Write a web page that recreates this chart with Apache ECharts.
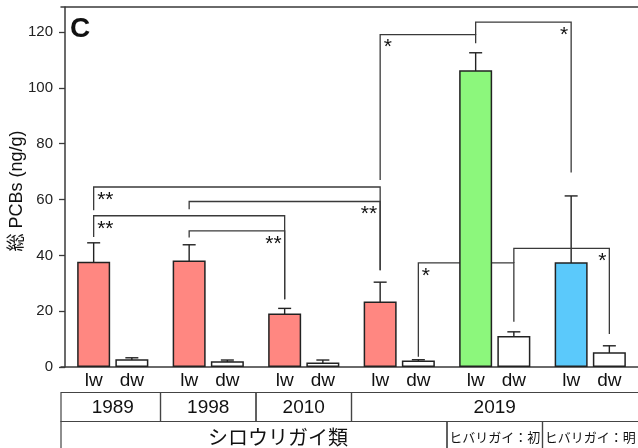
<!DOCTYPE html>
<html>
<head>
<meta charset="utf-8">
<script src="https://cdn.jsdelivr.net/npm/echarts@6/dist/echarts.min.js"></script>
<style>
  html, body { margin: 0; padding: 0; background: #fff; }
  #chart { width: 638px; height: 448px; }
</style>
</head>
<body>
<div id="chart"></div>
<script>
// bar pairs per group: lw then dw
var groups = ['1989', '1998', '2010', '2019 シロウリガイ類', '2019 ヒバリガイ：初', '2019 ヒバリガイ：明'];
var lwMean = [37.7, 38.2, 19.2, 23.5, 106.3, 37.5];
var lwLow = [31.6, 32.9, 18.0, 17.8, 100.0, 14.1];
var lwHigh = [44.5, 43.8, 21.0, 30.4, 112.6, 61.3];
var dwMean = [2.8, 2.1, 1.6, 2.3, 11.1, 5.3];
var dwLow = [2.2, 1.7, 1.1, 1.9, 8.8, 3.3];
var dwHigh = [3.3, 2.5, 2.5, 2.6, 12.6, 7.6];
var lwColors = ['#ff8781', '#ff8781', '#ff8781', '#ff8781', '#8cf77c', '#5bc9fb'];

// y axis ticks
var yTicks = [0, 20, 40, 60, 80, 100, 120];

// significance brackets, bar slots 0..11 (lw, dw, lw, dw ...)
var bracketFrom = [0, 2, 0, 2, 6, 8, 7, 9];
var bracketTo = [6, 6, 4, 4, 8, 10, 9, 11];
var bracketTop = [64.5, 59.3, 54.2, 48.8, 119.1, 123.6, 37.3, 42.5];
var bracketFromEnd = [56.2, 56.5, 46.6, 46.4, 67.0, 119.1, 3.7, 37.3];
var bracketToEnd = [34.7, 34.7, 24.3, 24.3, 116.0, 69.7, 16.2, 11.8];
var bracketMark = ['**', '**', '**', '**', '*', '*', '*', '*'];
var bracketMarkSide = ['left', 'right', 'left', 'right', 'left', 'right', 'left', 'right'];

// table under the axis
var yearLabels = ['1989', '1998', '2010', '2019'];
var yearSpans = [[0, 1], [1, 2], [2, 3], [3, 6]];
var speciesLabels = ['シロウリガイ類', 'ヒバリガイ：初', 'ヒバリガイ：明'];
var speciesSpans = [[0, 4], [4, 5], [5, 6]];

var LATIN = '"Liberation Sans", Arial, "Noto Sans CJK JP", sans-serif';
var CJK = '"Noto Sans CJK JP", sans-serif';
var LINE = '#3a3a3a';

function slotX(s) {
  return Math.floor(s / 2) + (s % 2 ? 0.7 : 0.3);
}

var barData = [];
var errData = [];
for (var g = 0; g < groups.length; g++) {
  barData.push({ value: [slotX(2 * g), lwMean[g]], itemStyle: { color: lwColors[g] }, kind: 'lw' });
  barData.push({ value: [slotX(2 * g + 1), dwMean[g]], itemStyle: { color: '#ffffff' }, kind: 'dw' });
  errData.push([slotX(2 * g), lwLow[g], lwHigh[g]]);
  errData.push([slotX(2 * g + 1), dwLow[g], dwHigh[g]]);
}

var bracketData = bracketFrom.map(function (f, i) {
  return [slotX(f), slotX(bracketTo[i]), bracketTop[i], bracketFromEnd[i], bracketToEnd[i]];
});

var cells = [];
yearLabels.forEach(function (t, i) {
  cells.push({ value: [yearSpans[i][0], yearSpans[i][1], 0], text: t });
});
speciesLabels.forEach(function (t, i) {
  cells.push({ value: [speciesSpans[i][0], speciesSpans[i][1], 1], text: t });
});
// the first species label sits a bit right of its cell centre
var cellTextShift = { 'シロウリガイ類': 22 };

var chart = echarts.init(document.getElementById('chart'));

chart.setOption({
  animation: false,
  backgroundColor: '#fff',
  grid: { left: 61, right: 0, top: 7, bottom: 81, containLabel: false, outerBoundsMode: 'none' },
  graphic: [{
    type: 'text',
    left: 70,
    top: 15,
    style: { text: 'C', font: 'bold 28px ' + LATIN, fill: '#111' }
  }],
  xAxis: [{
    type: 'value',
    min: -0.042,
    max: 6,
    axisLine: { show: true, onZero: false, lineStyle: { color: LINE, width: 1.5 } },
    axisTick: { show: false },
    axisLabel: { show: false },
    splitLine: { show: false }
  }, {
    type: 'value',
    position: 'top',
    min: -0.042,
    max: 6,
    axisLine: { show: true, onZero: false, lineStyle: { color: LINE, width: 1.5 } },
    axisTick: { show: false },
    axisLabel: { show: false },
    splitLine: { show: false }
  }],
  yAxis: {
    type: 'value',
    min: 0,
    max: 129,
    name: '総 PCBs (ng/g)',
    nameLocation: 'middle',
    nameGap: 35,
    nameRotate: 90,
    nameMoveOverlap: false,
    nameTextStyle: { fontSize: 18, fontFamily: LATIN, color: '#111', padding: [0, 8, 0, 0] },
    axisLine: { show: true, lineStyle: { color: LINE, width: 1.5 } },
    axisTick: { show: true, length: 6, customValues: yTicks, lineStyle: { color: LINE, width: 1.3 } },
    axisLabel: { fontSize: 15, fontFamily: LATIN, color: '#222', margin: 8, customValues: yTicks },
    splitLine: { show: false }
  },
  series: [{
    type: 'bar',
    barWidth: 33,
    data: barData,
    itemStyle: { borderColor: '#222', borderWidth: 1.5 },
    label: {
      show: true,
      position: 'bottom',
      distance: 4,
      fontSize: 19,
      fontFamily: LATIN,
      color: '#111',
      formatter: function (p) { return p.data.kind; }
    }
  }, {
    type: 'custom',
    name: 'error',
    data: errData,
    encode: { x: 0, y: [1, 2] },
    renderItem: function (params, api) {
      var hi = api.coord([api.value(0), api.value(2)]);
      var lo = api.coord([api.value(0), api.value(1)]);
      var w = 6.5;
      var st = { stroke: '#222', lineWidth: 1.4 };
      return {
        type: 'group',
        children: [
          { type: 'line', shape: { x1: hi[0], y1: hi[1], x2: lo[0], y2: lo[1] }, style: st },
          { type: 'line', shape: { x1: hi[0] - w, y1: hi[1], x2: hi[0] + w, y2: hi[1] }, style: st },
          { type: 'line', shape: { x1: lo[0] - w, y1: lo[1], x2: lo[0] + w, y2: lo[1] }, style: st }
        ]
      };
    }
  }, {
    type: 'custom',
    name: 'brackets',
    data: bracketData,
    encode: { x: [0, 1], y: [2, 3, 4] },
    clip: false,
    renderItem: function (params, api) {
      var i = params.dataIndex;
      var a = api.coord([api.value(0), api.value(3)]);
      var at = api.coord([api.value(0), api.value(2)]);
      var bt = api.coord([api.value(1), api.value(2)]);
      var b = api.coord([api.value(1), api.value(4)]);
      var left = bracketMarkSide[i] === 'left';
      return {
        type: 'group',
        children: [{
          type: 'polyline',
          shape: { points: [a, at, bt, b] },
          style: { stroke: LINE, lineWidth: 1.3, fill: null }
        }, {
          type: 'text',
          x: left ? at[0] + 3.5 : bt[0] - 3,
          y: at[1] + 13,
          style: {
            text: bracketMark[i],
            font: '21px ' + LATIN,
            fill: '#111',
            align: left ? 'left' : 'right',
            verticalAlign: 'middle'
          }
        }]
      };
    }
  }, {
    type: 'custom',
    name: 'table',
    data: cells,
    encode: { x: [0, 1] },
    clip: false,
    silent: true,
    renderItem: function (params, api) {
      var cs = params.coordSys;
      var row = api.value(2);
      var g0 = api.value(0), g1 = api.value(1);
      var base = api.coord([0, 0])[1];
      var x0 = g0 === 0 ? cs.x : api.coord([g0, 0])[0];
      var x1 = g1 === 6 ? cs.x + cs.width + 4 : api.coord([g1, 0])[0];
      var y0 = base + (row === 0 ? 25.5 : 54.5);
      var y1 = row === 0 ? base + 54.5 : base + 110;
      var text = cells[params.dataIndex].text;
      var cx = (api.coord([g0, 0])[0] + api.coord([g1, 0])[0]) / 2 + (cellTextShift[text] || 0);
      var font = row === 0 ? '19px ' + LATIN : (g1 - g0 > 1 ? '20px ' + CJK : '13px ' + CJK);
      return {
        type: 'group',
        children: [{
          type: 'rect',
          shape: { x: x0, y: y0, width: x1 - x0, height: y1 - y0 },
          style: { fill: null, stroke: '#444', lineWidth: 1.2 }
        }, {
          type: 'text',
          x: cx,
          y: row === 0 ? y0 + 15 : y0 + 16,
          style: { text: text, font: font, fill: '#111', align: 'center', verticalAlign: 'middle' }
        }]
      };
    }
  }]
});
</script>
</body>
</html>
